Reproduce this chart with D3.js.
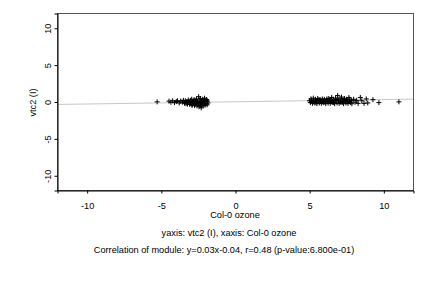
<!DOCTYPE html>
<html><head><meta charset="utf-8">
<script src="https://cdn.jsdelivr.net/npm/d3@7"></script>
<style>body{margin:0;background:#fff}svg{display:block}text{font-family:"Liberation Sans",Arial,sans-serif;fill:#000}</style>
</head><body><div id="chart"></div>
<script>
const xTicks = [-10, -5, 0, 5, 10];
const yTicks = [-10, -5, 0, 5, 10];
const xLabel = "Col-0 ozone";
const yLabel = "vtc2  (I)";
const subtitle1 = "yaxis: vtc2  (I), xaxis: Col-0 ozone";
const subtitle2 = "Correlation of module: y=0.03x-0.04, r=0.48  (p-value:6.800e-01)";
const slope = 0.03, intercept = -0.04;

const leftPoints = [
 [-5.25,-0.05],[-4.45,0.05],[-4.32,-0.1],[-4.2,0.1],[-4.08,-0.15],[-3.96,0.0],[-3.88,0.1],[-3.76,-0.2],
 [-3.66,0.05],[-3.55,-0.1],[-3.48,0.15],[-3.4,-0.25],[-3.35,0.1],[-3.3,-0.3],[-3.24,0.0],[-3.2,-0.35],
 [-3.15,0.2],[-3.1,-0.1],[-3.05,-0.4],[-3.0,0.15],[-2.96,-0.2],[-2.92,0.3],[-2.88,-0.45],[-2.85,0.0],
 [-2.8,-0.3],[-2.76,0.25],[-2.72,-0.55],[-2.68,0.1],[-2.65,-0.2],[-2.6,0.35],[-2.56,-0.6],[-2.52,0.0],
 [-2.48,-0.35],[-2.45,0.65],[-2.42,-0.7],[-2.38,0.2],[-2.35,-0.15],[-2.32,0.4],[-2.28,-0.85],[-2.25,0.05],
 [-2.22,-0.4],[-2.18,0.3],[-2.15,-0.6],[-2.12,0.15],[-2.08,-0.25],[-2.05,0.45],[-2.02,-0.5],[-1.98,0.1],
 [-1.95,-0.3],[-1.92,0.25],[-1.88,-0.45],[-1.85,0.05],[-1.82,-0.2],[-3.22,-0.15],[-3.02,-0.05],[-2.82,0.05],
 [-2.62,-0.1],[-2.42,-0.25],[-2.22,-0.05],[-2.02,0.0],[-2.9,-0.5],[-2.7,-0.4],[-2.5,-0.15],[-2.3,-0.55],
 [-2.1,-0.35],[-1.9,0.2]
];

const rightPoints = [
 [5.02,0.1],[5.08,-0.15],[5.12,0.35],[5.18,0.0],[5.22,-0.25],[5.28,0.45],[5.32,0.15],[5.38,-0.2],
 [5.42,0.3],[5.48,0.05],[5.52,-0.3],[5.58,0.4],[5.62,0.1],[5.68,-0.2],[5.72,0.25],[5.78,0.0],
 [5.82,-0.25],[5.88,0.35],[5.92,0.1],[5.98,-0.15],[6.02,0.3],[6.08,0.05],[6.12,-0.3],[6.18,0.2],
 [6.22,0.0],[6.28,-0.2],[6.32,0.4],[6.38,0.1],[6.42,-0.25],[6.48,0.25],[6.52,0.55],[6.58,-0.1],
 [6.62,0.3],[6.68,0.05],[6.72,-0.3],[6.78,0.45],[6.82,0.15],[6.88,-0.2],[6.92,0.8],[6.98,0.1],
 [7.02,-0.25],[7.08,0.35],[7.12,0.0],[7.18,0.6],[7.22,-0.15],[7.28,0.2],[7.32,-0.3],[7.38,0.4],
 [7.42,0.05],[7.48,-0.2],[7.52,0.3],[7.58,0.1],[7.62,-0.25],[7.68,0.55],[7.72,0.0],[7.78,-0.15],
 [7.82,0.2],[7.88,-0.3],[5.15,0.2],[5.45,-0.1],[5.75,0.2],[6.05,-0.05],[6.35,0.2],[6.65,-0.15],
 [6.95,0.3],[7.25,0.1],[7.55,-0.05],[7.85,0.1],[5.3,-0.05],[5.6,0.25],[5.9,-0.05],[6.2,0.35],
 [6.5,-0.05],[6.8,0.25],[7.1,-0.1],[7.4,0.25],[7.7,0.3],
 [8.0,0.3],[8.1,-0.1],[8.2,0.15],[8.3,-0.25],[8.45,0.55],[8.55,0.1],[8.7,-0.25],[8.85,0.35],
 [8.95,-0.2],[9.3,0.25],[9.7,-0.15],[11.05,-0.05]
];

const W = 432, H = 288;
const m = {left: 57, right: 413, top: 13, bottom: 190};
const FS = 9.2;
const x = d3.scaleLinear().domain([-12, 12]).range([m.left, m.right]);
const y = d3.scaleLinear().domain([-12, 12]).range([m.bottom, m.top]);

const svg = d3.select("#chart").append("svg").attr("width", W).attr("height", H);

// regression line
svg.append("line")
  .attr("x1", x(-12)).attr("y1", y(slope * -12 + intercept))
  .attr("x2", x(12)).attr("y2", y(slope * 12 + intercept))
  .attr("stroke", "#c8c8c8").attr("stroke-width", 1);

// points as "+"
const allPts = leftPoints.concat(rightPoints);
svg.append("g").selectAll("path").data(allPts).join("path")
  .attr("d", p => { const cx = x(p[0]), cy = y(p[1]);
    return `M${cx-2.5},${cy}H${cx+2.5}M${cx},${cy-2.5}V${cy+2.5}`; })
  .attr("stroke", "#000").attr("stroke-width", 1).attr("fill", "none");

// box
svg.append("rect").attr("x", m.left + 0.5).attr("y", m.top + 0.5)
  .attr("width", m.right - m.left).attr("height", m.bottom - m.top)
  .attr("fill", "none").attr("stroke", "#555");

const fmt = d => String(d);
// axes
const xAxis = d3.axisBottom(x).tickValues(xTicks).tickSize(3).tickPadding(9).tickFormat(fmt);
const gx = svg.append("g").attr("transform", `translate(0.5,${m.bottom + 0.5})`).call(xAxis);
gx.select(".domain").attr("stroke", "#000");
gx.selectAll("text").attr("font-size", FS).attr("font-family", "Liberation Sans, Arial, sans-serif");

const yAxis = d3.axisLeft(y).tickValues(yTicks).tickSize(3).tickFormat(fmt);
const gy = svg.append("g").attr("transform", `translate(${m.left + 0.5},0.5)`).call(yAxis);
gy.select(".domain").attr("stroke", "#000");
gy.selectAll("text").attr("font-size", FS).attr("font-family", "Liberation Sans, Arial, sans-serif")
  .attr("transform", "rotate(-90)").attr("text-anchor", "middle")
  .attr("x", 0).attr("y", -7).attr("dy", "0");

svg.append("text").attr("x", 235).attr("y", 218)
  .attr("text-anchor", "middle").attr("font-size", FS).text(xLabel);
svg.append("text").attr("transform", `translate(36,${(m.top + m.bottom) / 2 + 1}) rotate(-90)`)
  .attr("text-anchor", "middle").attr("font-size", FS).text(yLabel);
svg.append("text").attr("x", 229).attr("y", 236)
  .attr("text-anchor", "middle").attr("font-size", FS).text(subtitle1);
svg.append("text").attr("x", 224).attr("y", 253)
  .attr("text-anchor", "middle").attr("font-size", FS).text(subtitle2);
</script></body></html>
